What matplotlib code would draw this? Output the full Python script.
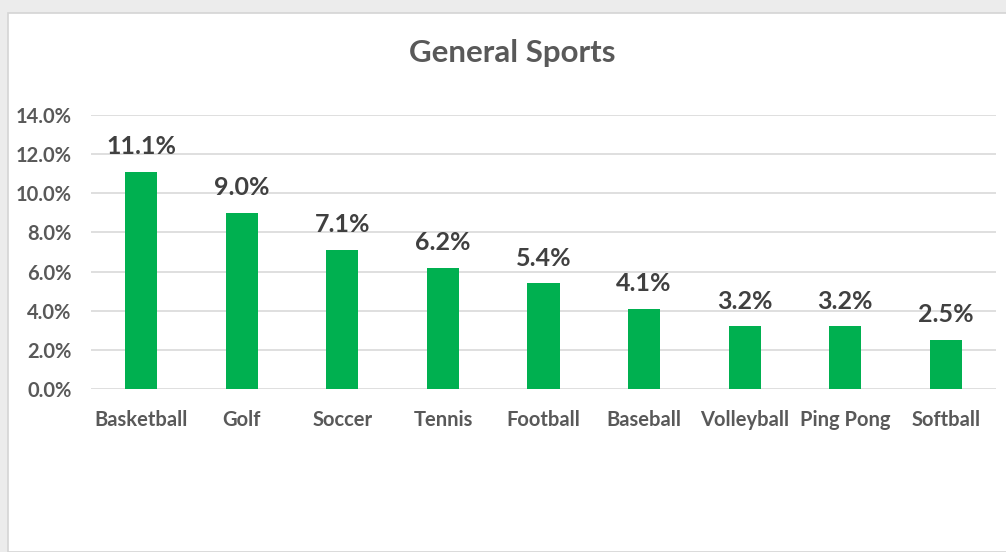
import matplotlib
matplotlib.use("Agg")
import matplotlib.pyplot as plt
from matplotlib.patches import Rectangle
import numpy as np

sports = ["Basketball", "Golf", "Soccer", "Tennis", "Football",
          "Baseball", "Volleyball", "Ping Pong", "Softball"]
shares = [11.1, 9.0, 7.1, 6.2, 5.4, 4.1, 3.2, 3.2, 2.5]
y_ticks = [0, 2, 4, 6, 8, 10, 12, 14]

plt.rcParams["font.family"] = ["Lato", "DejaVu Sans"]

W, H = 1006, 552
fig = plt.figure(figsize=(W / 100, H / 100), dpi=100)
fig.patch.set_facecolor("#ececec")

# white chart area with thin border, kept behind the axes
fig.patches.append(Rectangle((8 / W, 0), 1.0, 1 - 13 / H, transform=fig.transFigure,
                             facecolor="white", edgecolor="#d4d4d4", linewidth=1.2,
                             zorder=-5))

ax = fig.add_axes([91 / W, (H - 389) / H, 905 / W, 274 / H])
ax.set_facecolor("none")

x = np.arange(len(sports))
ax.bar(x, shares, width=0.32, color="#00b050", zorder=3)

for xi, v in zip(x, shares):
    ax.text(xi, v + 0.7, f"{v:.1f}%", ha="center", va="bottom",
            fontsize=18, fontweight="bold", color="#404040")

ax.set_xlim(-0.5, len(sports) - 0.5)
ax.set_ylim(0, 14)
ax.set_yticks(y_ticks)
ax.set_yticklabels([f"{t:.1f}%" for t in y_ticks])
ax.set_xticks(x)
ax.set_xticklabels(sports)
ax.grid(axis="y", color="#d9d9d9", linewidth=1.2, zorder=0)
ax.tick_params(length=0, labelsize=14.5, labelcolor="#595959")
ax.tick_params(axis="x", pad=15)
ax.tick_params(axis="y", pad=14)
for lbl in ax.get_xticklabels() + ax.get_yticklabels():
    lbl.set_fontweight("bold")
for s in ax.spines.values():
    s.set_visible(False)

fig.text(512 / W, 1 - 53 / H, "General Sports", ha="center", va="center",
         fontsize=22.5, fontweight="bold", color="#595959")

fig.savefig("out.png", dpi=100)
